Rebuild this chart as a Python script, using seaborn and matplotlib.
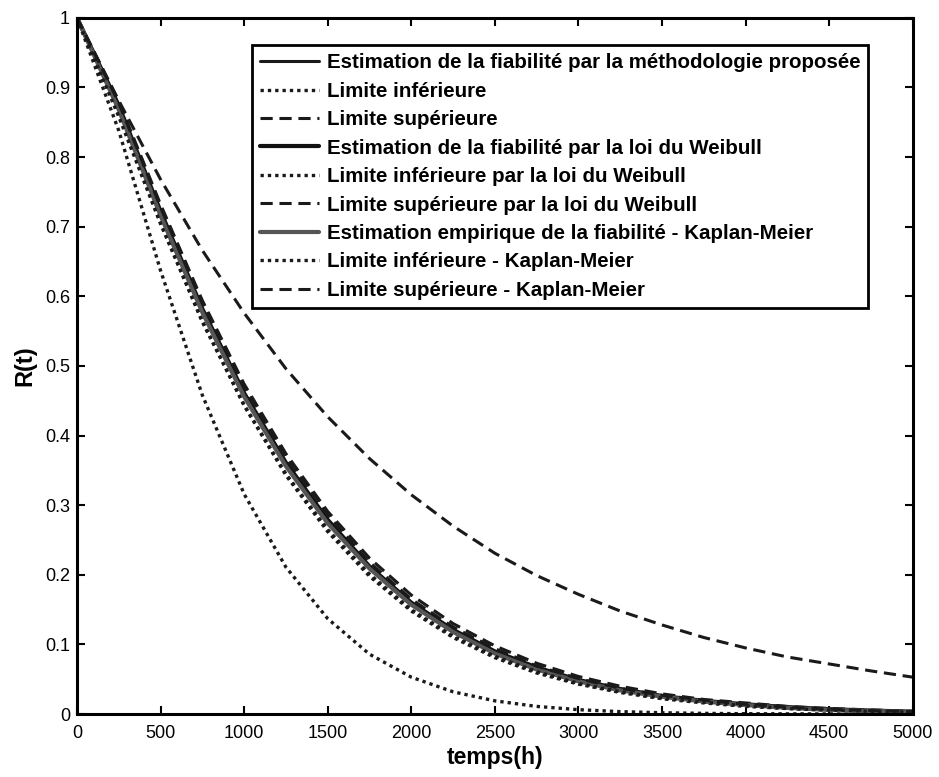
import matplotlib
matplotlib.use("Agg")
import matplotlib.pyplot as plt
import seaborn as sns
import pandas as pd

# time grid (h)
temps = [0, 250, 500, 750, 1000, 1250, 1500, 1750, 2000, 2250, 2500,
         2750, 3000, 3250, 3500, 3750, 4000, 4250, 4500, 4750, 5000]

est_proposee = [1, 0.870, 0.719, 0.579, 0.458, 0.358, 0.276, 0.210, 0.158, 0.119, 0.088,
                0.065, 0.048, 0.035, 0.025, 0.018, 0.013, 0.0092, 0.0065, 0.0046, 0.0032]
lim_inf = [1, 0.838, 0.637, 0.458, 0.316, 0.211, 0.137, 0.086, 0.053, 0.032, 0.019,
           0.011, 0.0063, 0.0035, 0.0019, 0.001, 0.0005, 0.0003, 0.0002, 0.0001, 0.0]
lim_sup = [1, 0.881, 0.768, 0.666, 0.576, 0.496, 0.427, 0.367, 0.315, 0.270, 0.231,
           0.199, 0.172, 0.148, 0.128, 0.110, 0.095, 0.082, 0.072, 0.062, 0.053]
est_weibull = [1, 0.874, 0.722, 0.582, 0.461, 0.361, 0.279, 0.212, 0.160, 0.121, 0.090,
               0.067, 0.049, 0.036, 0.026, 0.019, 0.014, 0.010, 0.007, 0.005, 0.0035]
lim_inf_weibull = [1, 0.862, 0.706, 0.565, 0.443, 0.343, 0.262, 0.198, 0.148, 0.110, 0.081,
                   0.059, 0.043, 0.031, 0.022, 0.016, 0.011, 0.008, 0.0055, 0.004, 0.0027]
lim_sup_weibull = [1, 0.880, 0.732, 0.594, 0.474, 0.374, 0.291, 0.224, 0.171, 0.130, 0.098,
                   0.073, 0.054, 0.040, 0.029, 0.021, 0.016, 0.011, 0.008, 0.006, 0.004]
est_km = [1, 0.868, 0.716, 0.577, 0.456, 0.356, 0.274, 0.209, 0.157, 0.118, 0.087,
          0.064, 0.047, 0.034, 0.025, 0.018, 0.013, 0.009, 0.006, 0.0045, 0.003]
lim_inf_km = [1, 0.858, 0.704, 0.563, 0.444, 0.345, 0.265, 0.201, 0.150, 0.112, 0.083,
              0.061, 0.044, 0.032, 0.023, 0.017, 0.012, 0.008, 0.0058, 0.004, 0.0028]
lim_sup_km = [1, 0.878, 0.728, 0.590, 0.469, 0.368, 0.286, 0.218, 0.165, 0.125, 0.094,
              0.069, 0.051, 0.037, 0.027, 0.020, 0.014, 0.010, 0.007, 0.005, 0.0035]

labels = [
    "Estimation de la fiabilité par la méthodologie proposée",
    "Limite inférieure",
    "Limite supérieure",
    "Estimation de la fiabilité par la loi du Weibull",
    "Limite inférieure par la loi du Weibull",
    "Limite supérieure par la loi du Weibull",
    "Estimation empirique de la fiabilité - Kaplan-Meier",
    "Limite inférieure - Kaplan-Meier",
    "Limite supérieure - Kaplan-Meier",
]
series = [est_proposee, lim_inf, lim_sup, est_weibull, lim_inf_weibull,
          lim_sup_weibull, est_km, lim_inf_km, lim_sup_km]

sns.set_style("ticks")
plt.rcParams['font.family'] = ['Liberation Sans', 'DejaVu Sans']
plt.rcParams['text.color'] = 'black'
plt.rcParams['axes.labelcolor'] = 'black'

fig = plt.figure(figsize=(9.39, 7.77), dpi=100)
ax = fig.add_axes([0.082, 0.081, 0.890, 0.896])

styles = [
    dict(color="#1a1a1a", linestyle="-", linewidth=2.2),
    dict(color="#1a1a1a", linestyle=(0, (1, 1.2)), linewidth=2.4),
    dict(color="#1a1a1a", linestyle=(0, (4, 2.2)), linewidth=2.2),
    dict(color="#111111", linestyle="-", linewidth=3.0),
    dict(color="#1a1a1a", linestyle=(0, (1, 1.2)), linewidth=2.4),
    dict(color="#1a1a1a", linestyle=(0, (4, 2.2)), linewidth=2.2),
    dict(color="#555555", linestyle="-", linewidth=3.0),
    dict(color="#1a1a1a", linestyle=(0, (1, 1.2)), linewidth=2.4),
    dict(color="#1a1a1a", linestyle=(0, (4, 2.2)), linewidth=2.2),
]

for lab, vals, st in zip(labels, series, styles):
    df = pd.DataFrame({"temps": temps, "R": vals})
    sns.lineplot(data=df, x="temps", y="R", ax=ax, label=lab, **st)

ax.set_xlim(0, 5000)
ax.set_ylim(0, 1)
ax.set_xticks(range(0, 5001, 500))
ax.set_yticks([0, 0.1, 0.2, 0.3, 0.4, 0.5, 0.6, 0.7, 0.8, 0.9, 1])
ax.set_yticklabels(["0", "0.1", "0.2", "0.3", "0.4", "0.5", "0.6", "0.7", "0.8", "0.9", "1"])
ax.tick_params(direction="in", top=True, right=True, length=6, width=1.5,
               labelsize=13, colors="black")
ax.tick_params(axis="x", pad=8)
ax.tick_params(axis="y", pad=5)
for sp in ax.spines.values():
    sp.set_linewidth(2.2)
    sp.set_color("black")
    sp.set_visible(True)

ax.set_xlabel("temps(h)", fontsize=16.5, fontweight="bold", labelpad=3)
ax.set_ylabel("R(t)", fontsize=17, fontweight="bold", labelpad=6)

leg = ax.legend(loc="upper right", bbox_to_anchor=(0.947, 0.961), borderaxespad=0,
                frameon=True, fancybox=False, edgecolor="black", framealpha=1,
                prop=dict(weight="bold", size=14.8), handlelength=2.9,
                handletextpad=0.35, labelspacing=0.46, borderpad=0.4)
leg.get_frame().set_linewidth(2.0)
for t in leg.get_texts():
    t.set_color("black")

fig.savefig("out.png", dpi=100)
